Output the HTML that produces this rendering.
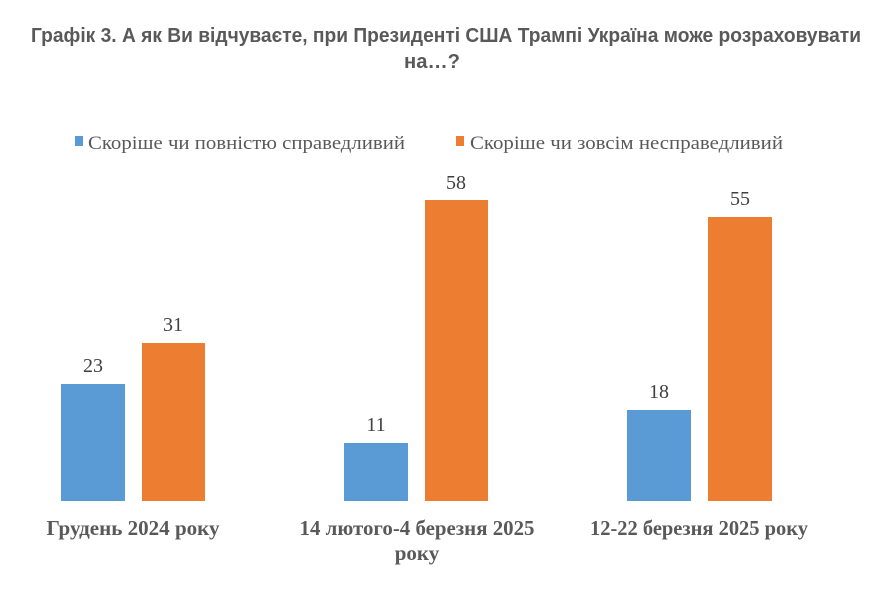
<!DOCTYPE html>
<html><head><meta charset="utf-8"><style>html,body{margin:0;padding:0;background:#fff}</style></head>
<body>
<svg width="880" height="590" xmlns="http://www.w3.org/2000/svg">
<g font-family="Liberation Sans, sans-serif" font-weight="bold" font-size="20" fill="#595959" text-anchor="middle">
<text x="446" y="42" textLength="830" lengthAdjust="spacingAndGlyphs">Графік 3. А як Ви відчуваєте, при Президенті США Трампі Україна може розраховувати</text>
<text x="432" y="68" textLength="56" lengthAdjust="spacingAndGlyphs">на…?</text>
</g>
<rect x="75" y="136" width="8" height="10" fill="#5b9bd5"/>
<rect x="456" y="136" width="8" height="10" fill="#ed7d31"/>
<g font-family="Liberation Serif, serif" font-size="19" fill="#595959">
<text x="88" y="149" textLength="317" lengthAdjust="spacingAndGlyphs">Скоріше чи повністю справедливий</text>
<text x="470" y="149" textLength="313" lengthAdjust="spacingAndGlyphs">Скоріше чи зовсім несправедливий</text>
</g>
<rect x="61" y="384" width="64" height="117" fill="#5b9bd5"/>
<rect x="142" y="343" width="63" height="158" fill="#ed7d31"/>
<rect x="344" y="443" width="64" height="58" fill="#5b9bd5"/>
<rect x="425" y="200" width="63" height="301" fill="#ed7d31"/>
<rect x="627" y="410" width="64" height="91" fill="#5b9bd5"/>
<rect x="708" y="217" width="64" height="284" fill="#ed7d31"/>
<g font-family="Liberation Serif, serif" font-size="20" fill="#404040" text-anchor="middle">
<text x="93" y="372">23</text>
<text x="173" y="331">31</text>
<text x="376" y="431">11</text>
<text x="456" y="189">58</text>
<text x="659" y="398">18</text>
<text x="740" y="205">55</text>
</g>
<g font-family="Liberation Serif, serif" font-weight="bold" font-size="21" fill="#595959" text-anchor="middle">
<text x="133" y="535" textLength="173" lengthAdjust="spacingAndGlyphs">Грудень 2024 року</text>
<text x="417" y="535" textLength="235" lengthAdjust="spacingAndGlyphs">14 лютого-4 березня 2025</text>
<text x="417" y="560">року</text>
<text x="699" y="535" textLength="218" lengthAdjust="spacingAndGlyphs">12-22 березня 2025 року</text>
</g>
</svg>
</body></html>
